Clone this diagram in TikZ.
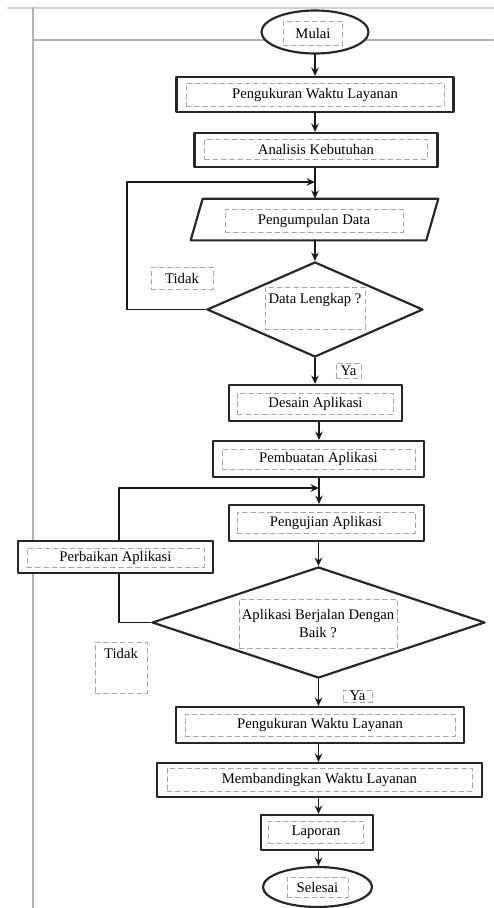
\documentclass[tikz,border=0pt]{standalone}
\usepackage{fontspec}
\setmainfont{Liberation Serif}
\usetikzlibrary{shapes.geometric, arrows.meta}
\begin{document}
\begin{tikzpicture}[>={Stealth[length=5pt,width=4.5pt]}, line cap=round, line join=round, x=0.6pt, y=-0.6pt,
	font=\fontsize{8.8}{10.5}\selectfont,
	box/.style={draw=black!85, line width=1.3pt, fill=white, inner sep=0pt},
	tbox/.style={draw=gray!70, densely dashed, line width=0.4pt, inner sep=1pt, align=center},
	flow/.style={->, draw=black!90, line width=1pt},
	frame/.style={draw=gray!60, line width=1pt}]
	\def\px{0.6pt}
	\useasboundingbox (0,0) rectangle (493,908);
	% page frame
	\draw[frame, draw=gray!35] (8,8)--(493,8);
	\draw[frame] (33,8)--(33,908);
	\draw[frame] (33,40)--(493,40);
	% shapes
	\node[box, ellipse, minimum width=107*\px, minimum height=43*\px] (mulai) at (315,32) {};
	\node[tbox, minimum width=59*\px, minimum height=24*\px] (mulai-t) at (313,33) {Mulai};
	\node[box, minimum width=277*\px, minimum height=35*\px] (ukur1) at (315,94.5) {};
	\node[tbox, minimum width=258*\px, minimum height=23*\px] (ukur1-t) at (315,94.5) {Pengukuran Waktu Layanan};
	\node[box, minimum width=243*\px, minimum height=34*\px] (analisis) at (316,150) {};
	\node[tbox, minimum width=223*\px, minimum height=20*\px] (analisis-t) at (316,149) {Analisis Kebutuhan};
	\node[inner sep=0pt, minimum width=235*\px, minimum height=41*\px] (kumpul) at (314.5,219.5) {};
	\draw[box] ([xshift=-6*\px]kumpul.south west) -- ([xshift=-6*\px]kumpul.south east)
		-- ([xshift=6*\px]kumpul.north east) -- ([xshift=6*\px]kumpul.north west) -- cycle;
	\node[tbox, minimum width=178*\px, minimum height=23*\px] (kumpul-t) at (314,220.5) {Pengumpulan Data};
	\node[box, diamond, minimum width=216*\px, minimum height=95*\px] (lengkap) at (315,309.5) {};
	\node[tbox, minimum width=100*\px, minimum height=42*\px, label={[anchor=north, inner sep=1pt, yshift=-3pt]north:Data Lengkap ?}] (lengkap-t) at (315,308) {};
	\node[tbox, minimum width=62*\px, minimum height=22*\px] (tidak1) at (182,278) {Tidak};
	\node[tbox, minimum width=25*\px, minimum height=15*\px, inner sep=0.5pt] (ya1) at (348.5,370.5) {Ya};
	\node[box, minimum width=173*\px, minimum height=36*\px] (desain) at (315.5,403) {};
	\node[tbox, minimum width=156*\px, minimum height=21*\px] (desain-t) at (315.5,403.5) {Desain Aplikasi};
	\node[box, minimum width=211*\px, minimum height=36*\px] (pembuatan) at (318.5,459) {};
	\node[tbox, minimum width=193*\px, minimum height=20*\px] (pembuatan-t) at (318.5,459) {Pembuatan Aplikasi};
	\node[box, minimum width=195*\px, minimum height=36*\px] (pengujian) at (326.5,523) {};
	\node[tbox, minimum width=178*\px, minimum height=21*\px] (pengujian-t) at (326,522.5) {Pengujian Aplikasi};
	\node[box, minimum width=195*\px, minimum height=32*\px] (perbaikan) at (115.5,557) {};
	\node[tbox, minimum width=177*\px, minimum height=19*\px] (perbaikan-t) at (115.5,557.5) {Perbaikan Aplikasi};
	\node[box, diamond, minimum width=333*\px, minimum height=111*\px] (uji) at (318.5,622.5) {};
	\node[tbox, minimum width=158*\px, minimum height=49*\px] (uji-t) at (318,623.5) {Aplikasi Berjalan Dengan\\Baik ?};
	\node[tbox, minimum width=52*\px, minimum height=51*\px, label={[anchor=north, inner sep=1pt, yshift=-3pt]north:Tidak}] (tidak2) at (121,667.5) {};
	\node[tbox, minimum width=29*\px, minimum height=12*\px, inner sep=0.5pt] (ya2) at (357.5,696) {Ya};
	\node[box, minimum width=288*\px, minimum height=36*\px] (ukur2) at (320,725) {};
	\node[tbox, minimum width=270*\px, minimum height=22*\px] (ukur2-t) at (320,725) {Pengukuran Waktu Layanan};
	\node[box, minimum width=325*\px, minimum height=34*\px] (banding) at (319.5,780) {};
	\node[tbox, minimum width=305*\px, minimum height=23*\px] (banding-t) at (319.5,779.5) {Membandingkan Waktu Layanan};
	\node[box, minimum width=112*\px, minimum height=35*\px] (laporan) at (317,832.5) {};
	\node[tbox, minimum width=95*\px, minimum height=22*\px] (laporan-t) at (316,832) {Laporan};
	\node[box, ellipse, minimum width=109*\px, minimum height=40*\px] (selesai) at (317.5,887) {};
	\node[tbox, minimum width=61*\px, minimum height=20*\px] (selesai-t) at (317.5,887) {Selesai};
	\coordinate (j1) at (315,182);
	\coordinate (j2) at (319,488);
	% connectors
	\draw[flow] (mulai) -- (ukur1);
	\draw[flow] (ukur1) -- (ukur1 |- analisis.north);
	\draw[flow] (analisis.south -| ukur1) -- (ukur1 |- kumpul.north);
	\draw[flow] (kumpul.south -| ukur1) -- (lengkap.north);
	\draw[flow] (lengkap.west) -- ++(-79,0) |- (j1);
	\draw[flow] (lengkap.south) -- (lengkap.south |- desain.north);
	\draw[flow] (desain.south -| j2) -- (j2 |- pembuatan.north);
	\draw[flow] (pembuatan.south -| j2) -- (j2 |- pengujian.north);
	\draw[flow] (perbaikan.north -| 119,0) |- (j2);
	\draw[line width=1pt, draw=black!90] (uji.west) -| (perbaikan.south -| 119,0);
	\draw[flow] (pengujian.south -| uji) -- (uji.north);
	\draw[flow] (uji.south) -- (uji.south |- ukur2.north);
	\draw[flow] (ukur2.south -| uji) -- (uji |- banding.north);
	\draw[flow] (banding.south -| uji) -- (uji |- laporan.north);
	\draw[flow] (laporan.south -| uji) -- (uji |- selesai.north);
\end{tikzpicture}
\end{document}
